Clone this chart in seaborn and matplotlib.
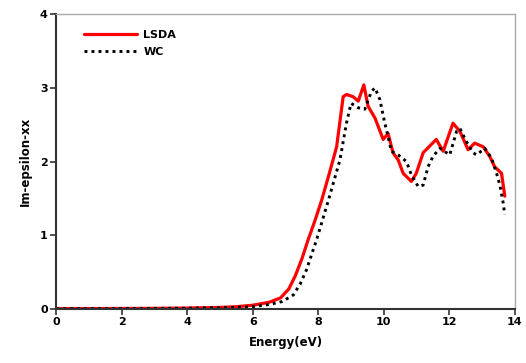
import numpy as np
import pandas as pd
import seaborn as sns
import matplotlib
matplotlib.use("Agg")
import matplotlib.pyplot as plt

lsda_energy = [0.0, 1.0, 2.0, 3.0, 4.0, 5.0, 5.5, 6.0, 6.5, 6.85, 7.1, 7.3, 7.5, 7.7, 7.9, 8.1, 8.3,
               8.56, 8.76, 8.86, 9.06, 9.22, 9.39, 9.52, 9.73, 9.98, 10.13, 10.28, 10.44,
               10.59, 10.84, 10.99, 11.2, 11.4, 11.6, 11.81, 12.11, 12.32, 12.57, 12.77,
               13.03, 13.23, 13.38, 13.59, 13.69]
lsda_eps = [0.005, 0.005, 0.006, 0.008, 0.012, 0.02, 0.03, 0.05, 0.09, 0.15, 0.27, 0.45, 0.68,
            0.95, 1.2, 1.47, 1.78, 2.2, 2.88, 2.91, 2.88, 2.82, 3.04, 2.75, 2.59, 2.30,
            2.38, 2.12, 2.02, 1.84, 1.73, 1.84, 2.12, 2.21, 2.30, 2.14, 2.52, 2.41,
            2.16, 2.25, 2.20, 2.07, 1.93, 1.84, 1.53]

wc_energy = [0.0, 1.0, 2.0, 3.0, 4.0, 5.0, 5.5, 6.0, 6.5, 6.9, 7.24, 7.45, 7.64, 7.95, 8.3,
             8.66, 8.86, 9.0, 9.22, 9.42, 9.62, 9.73, 9.88, 10.03, 10.13, 10.23, 10.44,
             10.69, 10.84, 11.05, 11.2, 11.35, 11.5, 11.71, 12.01, 12.22, 12.32, 12.52,
             12.72, 12.83, 13.08, 13.28, 13.44, 13.54, 13.64, 13.69]
wc_eps = [0.004, 0.004, 0.005, 0.006, 0.009, 0.015, 0.02, 0.03, 0.06, 0.1, 0.19, 0.34, 0.53,
          0.94, 1.46, 2.02, 2.52, 2.79, 2.73, 2.71, 2.95, 3.0, 2.84, 2.52, 2.34, 2.14,
          2.09, 2.0, 1.82, 1.66, 1.68, 1.93, 2.07, 2.18, 2.09, 2.41, 2.45, 2.27, 2.12,
          2.09, 2.18, 2.05, 1.84, 1.68, 1.44, 1.28]

x_ticks = [0, 2, 4, 6, 8, 10, 12, 14]
y_ticks = [0, 1, 2, 3, 4]

sns.set_style("ticks")
plt.rcParams['font.family'] = ['DejaVu Sans']
plt.rcParams['text.color'] = 'black'
plt.rcParams['axes.labelcolor'] = 'black'
plt.rcParams['xtick.color'] = 'black'
plt.rcParams['ytick.color'] = 'black'

fig = plt.figure(figsize=(5.26, 3.63), dpi=100)
ax = fig.add_axes([0.1065, 0.149, 0.8725, 0.812])

df_l = pd.DataFrame({"E": lsda_energy, "eps": lsda_eps})
df_w = pd.DataFrame({"E": wc_energy, "eps": wc_eps})

sns.lineplot(data=df_l, x="E", y="eps", ax=ax, color="#ff0000", lw=2.3, label="LSDA",
             sort=False, estimator=None)
sns.lineplot(data=df_w, x="E", y="eps", ax=ax, color="black", lw=2.1, label="WC",
             sort=False, estimator=None, dashes=False)
ax.lines[1].set_dashes((1, 1.4))

ax.set_xlim(0, 14)
ax.set_ylim(0, 4)
ax.set_xticks(x_ticks)
ax.set_yticks(y_ticks)
ax.set_xlabel("Energy(eV)", fontsize=8.5, fontweight="bold", labelpad=6, color="black")
ax.set_ylabel("Im-epsilon-xx", fontsize=8.5, fontweight="bold", labelpad=6, color="black")
for lab in ax.get_xticklabels() + ax.get_yticklabels():
    lab.set_fontweight("bold")
    lab.set_fontsize(8)
    lab.set_color("black")
ax.tick_params(axis="both", direction="out", length=4, width=1.2, color="#333333", pad=2)

for s in ["left", "bottom"]:
    ax.spines[s].set_color("#333333")
    ax.spines[s].set_linewidth(1.5)
for s in ["top", "right"]:
    ax.spines[s].set_visible(True)
    ax.spines[s].set_color("#aaaaaa")
    ax.spines[s].set_linewidth(1.0)

leg = ax.legend(loc="upper left", frameon=False, handlelength=4.7, fontsize=8,
                bbox_to_anchor=(0.04, 0.98), labelspacing=0.6, handletextpad=0.6)
for t in leg.get_texts():
    t.set_fontweight("bold")
    t.set_color("black")
leg.get_lines()[1].set_dashes((1, 1.4))

fig.savefig("out.png", dpi=100)
